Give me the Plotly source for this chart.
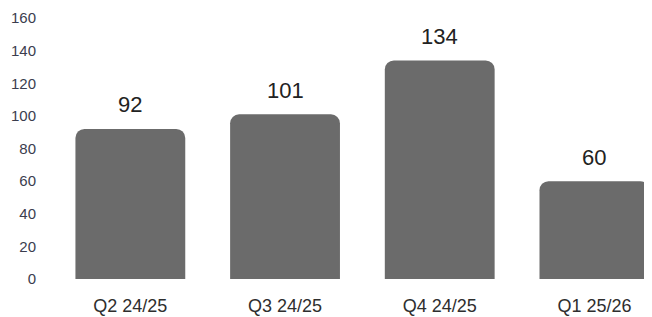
import plotly.graph_objects as go

categories = ["Q2 24/25", "Q3 24/25", "Q4 24/25", "Q1 25/26"]
values = [92, 101, 134, 60]
y_ticks = [0, 20, 40, 60, 80, 100, 120, 140, 160]

fig = go.Figure()
fig.add_trace(go.Bar(
    x=categories, y=values,
    marker=dict(color="#6b6b6b", line=dict(width=0)),
    width=0.71,
    hoverinfo="skip",
))

for c, v in zip(categories, values):
    fig.add_annotation(x=c, y=v, text=str(v), showarrow=False,
                       yshift=24, yanchor="middle",
                       font=dict(family="Liberation Sans, Arial", size=22, color="#222222"))

fig.update_layout(
    width=652, height=317,
    margin=dict(l=45, r=0, t=10, b=46),
    paper_bgcolor="white", plot_bgcolor="white",
    barcornerradius=9,
    showlegend=False,
    xaxis=dict(range=[-0.5, 3.424], showgrid=False, zeroline=False, showline=False,
               tickfont=dict(family="Liberation Sans, Arial", size=18, color="#2e2e2e"),
               ticks="", ticklabelstandoff=14),
    yaxis=dict(range=[0, 160], tickvals=y_ticks, showgrid=False, zeroline=False,
               showline=False, ticks="",
               tickfont=dict(family="Liberation Sans, Arial", size=15, color="#3b3d4e"),
               ticklabelstandoff=16),
)

fig.write_html("out.html")
